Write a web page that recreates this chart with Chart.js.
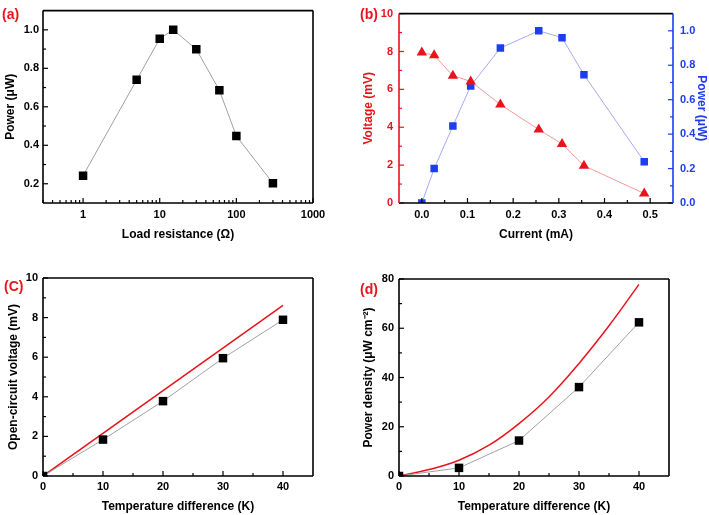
<!DOCTYPE html>
<html>
<head>
<meta charset="utf-8">
<script src="https://cdn.jsdelivr.net/npm/chart.js@4.4.0/dist/chart.umd.min.js"></script>
<style>
body { margin: 0; background: #fff; width: 709px; height: 515px; position: relative; overflow: hidden; font-family: 'Liberation Sans', Arial, sans-serif; }
canvas { position: absolute; }
.tag { position: absolute; color: #e8141c; font-weight: bold; font-size: 14px; line-height: 14px; }
</style>
</head>
<body>
<canvas id="chartA" width="354" height="257" style="left:0;top:0"></canvas>
<canvas id="chartB" width="355" height="257" style="left:354px;top:0"></canvas>
<canvas id="chartC" width="354" height="258" style="left:0;top:257px"></canvas>
<canvas id="chartD" width="355" height="258" style="left:354px;top:257px"></canvas>
<div class="tag" style="left:2px;top:7px">(a)</div>
<div class="tag" style="left:360px;top:7px">(b)</div>
<div class="tag" style="left:4px;top:279px">(C)</div>
<div class="tag" style="left:360px;top:282px">(d)</div>
<script>
// (a) power vs load resistance
var loadResistance = [1, 5, 10, 15, 30, 60, 100, 300];
var powerVsLoad = [0.242, 0.74, 0.954, 1.0, 0.899, 0.686, 0.448, 0.203];

// (b) voltage and power vs current
var current = [0, 0.027, 0.068, 0.107, 0.172, 0.256, 0.307, 0.355, 0.487];
var voltage = [7.94, 7.8, 6.72, 6.42, 5.2, 3.88, 3.12, 1.97, 0.5];
var power = [0, 0.2, 0.447, 0.68, 0.9, 1.0, 0.96, 0.745, 0.24];

// (c) open-circuit voltage vs temperature difference
var tempDiff = [0, 10, 20, 30, 40];
var ocVoltage = [0, 1.84, 3.78, 5.95, 7.89];
var ocTheoryTemp = [0, 40];
var ocTheory = [0, 8.62];

// (d) power density vs temperature difference
var powerDensity = [0, 3.3, 14.4, 36.1, 62.4];
var pdTheoryTemp = [0, 5, 10, 15, 20, 25, 30, 35, 40];
var pdTheory = [0, 2.6, 6.4, 12.5, 21.3, 32.1, 45.7, 61.0, 77.8];

// tick labels
var aXTicks = [1, 10, 100, 1000];
var aYTicks = [0.2, 0.4, 0.6, 0.8, 1.0];
var bXTicks = [0, 0.1, 0.2, 0.3, 0.4, 0.5];
var bYTicks = [0, 2, 4, 6, 8, 10];
var bY2Ticks = [0, 0.2, 0.4, 0.6, 0.8, 1.0];
var cXTicks = [0, 10, 20, 30, 40];
var cYTicks = [0, 2, 4, 6, 8, 10];
var dXTicks = [0, 10, 20, 30, 40];
var dYTicks = [0, 20, 40, 60, 80];

var RED = '#e8141c';
var BLUE = '#1e3cf0';

Chart.defaults.font.family = "'Liberation Sans', Arial, sans-serif";
Chart.defaults.font.weight = 'bold';
Chart.defaults.color = '#000';

function pts(xs, ys) {
    var out = [];
    for (var i = 0; i < xs.length; i++) out.push({x: xs[i], y: ys[i]});
    return out;
}

function minorValues(s, majors) {
    var out = [];
    if (s.type === 'logarithmic') {
        var d0 = Math.floor(Math.log10(s.min)), d1 = Math.ceil(Math.log10(s.max));
        for (var d = d0; d <= d1; d++) {
            for (var k = 2; k < 10; k++) {
                var v = k * Math.pow(10, d);
                if (v > s.min && v < s.max) out.push(v);
            }
        }
        return out;
    }
    var step = majors[1] - majors[0];
    for (var w = majors[0] - step / 2; w < s.max - 1e-9; w += step) {
        if (w > s.min + 1e-9 && majors.indexOf(w) < 0) out.push(w);
    }
    return out;
}

// inward ticks and a framed box, the way the original plots look
var frameTicks = {
    id: 'frameTicks',
    afterDraw: function(chart) {
        var ctx = chart.ctx, a = chart.chartArea;
        var sideColor = {left: '#000', right: '#000'};
        ctx.save();
        Object.keys(chart.scales).forEach(function(id) {
            var s = chart.scales[id];
            var pos = s.options.position;
            var col = s.options.ticks.color || '#000';
            if (pos === 'left' || pos === 'right') sideColor[pos] = col;
            var majors = s.ticks.map(function(t) { return t.value; });
            var minors = minorValues(s, majors);
            ctx.strokeStyle = col;
            ctx.lineWidth = 1.2;
            function mark(v, len) {
                var p = s.getPixelForValue(v);
                ctx.beginPath();
                if (pos === 'bottom') { ctx.moveTo(p, a.bottom); ctx.lineTo(p, a.bottom - len); }
                else if (pos === 'left') { ctx.moveTo(a.left, p); ctx.lineTo(a.left + len, p); }
                else { ctx.moveTo(a.right, p); ctx.lineTo(a.right - len, p); }
                ctx.stroke();
            }
            majors.forEach(function(v) { mark(v, 5); });
            minors.forEach(function(v) { mark(v, 3); });
        });
        ctx.lineWidth = 1.6;
        ctx.strokeStyle = '#000';
        ctx.beginPath();
        ctx.moveTo(a.left, a.top); ctx.lineTo(a.right, a.top);
        ctx.moveTo(a.left, a.bottom); ctx.lineTo(a.right, a.bottom);
        ctx.stroke();
        ctx.strokeStyle = sideColor.left;
        ctx.beginPath(); ctx.moveTo(a.left, a.top); ctx.lineTo(a.left, a.bottom); ctx.stroke();
        ctx.strokeStyle = sideColor.right;
        ctx.beginPath(); ctx.moveTo(a.right, a.top); ctx.lineTo(a.right, a.bottom); ctx.stroke();
        ctx.restore();
    }
};

function axis(cfg) {
    return {
        type: cfg.type || 'linear',
        position: cfg.position,
        min: cfg.min,
        max: cfg.max,
        grid: {display: false, drawTicks: false},
        border: {display: false},
        afterBuildTicks: function(s) {
            s.ticks = cfg.ticks.map(function(v) { return {value: v}; });
        },
        afterFit: function(s) {
            if (cfg.position === 'bottom') s.height = cfg.size;
            else s.width = cfg.size;
        },
        ticks: {
            color: cfg.color || '#000',
            font: {size: 11, weight: 'bold'},
            padding: cfg.tickPad,
            maxRotation: 0,
            autoSkip: false,
            callback: function(v) { return cfg.fmt ? cfg.fmt(v) : String(v); }
        },
        title: {
            display: true,
            text: cfg.title,
            color: cfg.color || '#000',
            font: {size: 12, weight: 'bold'},
            padding: cfg.titlePad
        }
    };
}

function one(v) { return Number(v).toFixed(1); }

function baseOptions(pad, scales) {
    return {
        responsive: false,
        animation: false,
        layout: {padding: pad},
        plugins: {legend: {display: false}, tooltip: {enabled: false}},
        scales: scales
    };
}

function dataSet(xs, ys, extra) {
    var d = {
        data: pts(xs, ys),
        borderColor: '#a0a0a0',
        borderWidth: 1,
        pointStyle: 'rect',
        pointRadius: 6,
        pointBackgroundColor: '#000',
        pointBorderWidth: 0,
        tension: 0
    };
    for (var k in extra) d[k] = extra[k];
    return d;
}

new Chart(document.getElementById('chartA'), {
    type: 'line',
    data: {datasets: [dataSet(loadResistance, powerVsLoad, {})]},
    options: baseOptions({top: 6, right: 41, left: 0, bottom: 0}, {
        x: axis({type: 'logarithmic', position: 'bottom', min: 0.3, max: 1000, ticks: aXTicks, size: 54, tickPad: 5,
                 title: 'Load resistance (\u03A9)', titlePad: {bottom: 15}}),
        y: axis({position: 'left', min: 0.1, max: 1.1, ticks: aYTicks, size: 43, tickPad: 4, fmt: one,
                 title: 'Power (\u03BCW)', titlePad: {top: 3}})
    }),
    plugins: [frameTicks]
});

new Chart(document.getElementById('chartB'), {
    type: 'line',
    data: {datasets: [
        dataSet(current, voltage, {yAxisID: 'y', borderColor: '#f39a9a', pointStyle: 'triangle', pointRadius: 6,
                                   pointBackgroundColor: RED}),
        dataSet(current, power, {yAxisID: 'y2', borderColor: '#a3acf2', pointRadius: 5.3,
                                 pointBackgroundColor: BLUE})
    ]},
    options: baseOptions({top: 6, right: 0, left: 0, bottom: 0}, {
        x: axis({position: 'bottom', min: -0.05, max: 0.55, ticks: bXTicks, size: 54, tickPad: 5, fmt: one,
                 title: 'Current (mA)', titlePad: {bottom: 15}}),
        y: axis({position: 'left', min: 0, max: 10, ticks: bYTicks, size: 45, tickPad: 6, color: RED,
                 title: 'Voltage (mV)', titlePad: {top: 7}}),
        y2: axis({position: 'right', min: 0, max: 1.1, ticks: bY2Ticks, size: 36, tickPad: 7, color: BLUE, fmt: one,
                  title: 'Power (\u03BCW)', titlePad: {top: 0}})
    }),
    plugins: [frameTicks]
});

new Chart(document.getElementById('chartC'), {
    type: 'line',
    data: {datasets: [
        dataSet(tempDiff, ocVoltage, {}),
        dataSet(ocTheoryTemp, ocTheory, {borderColor: RED, borderWidth: 1.5, pointRadius: 0})
    ]},
    options: baseOptions({top: 21, right: 41, left: 0, bottom: 0}, {
        x: axis({position: 'bottom', min: 0, max: 45, ticks: cXTicks, size: 39, tickPad: 4,
                 title: 'Temperature difference (K)', titlePad: {bottom: 1}}),
        y: axis({position: 'left', min: 0, max: 10, ticks: cYTicks, size: 43, tickPad: 5,
                 title: 'Open-circuit voltage (mV)', titlePad: {top: 6}})
    }),
    plugins: [frameTicks]
});

new Chart(document.getElementById('chartD'), {
    type: 'line',
    data: {datasets: [
        dataSet(tempDiff, powerDensity, {}),
        dataSet(pdTheoryTemp, pdTheory, {borderColor: RED, borderWidth: 1.5, pointRadius: 0, tension: 0.4})
    ]},
    options: baseOptions({top: 22, right: 40, left: 0, bottom: 0}, {
        x: axis({position: 'bottom', min: 0, max: 45, ticks: dXTicks, size: 39, tickPad: 4,
                 title: 'Temperature difference (K)', titlePad: {bottom: 1}}),
        y: axis({position: 'left', min: 0, max: 80, ticks: dYTicks, size: 45, tickPad: 5,
                 title: 'Power density (\u03BCW cm\u207B\u00B2)', titlePad: {top: 7}})
    }),
    plugins: [frameTicks]
});
</script>
</body>
</html>
